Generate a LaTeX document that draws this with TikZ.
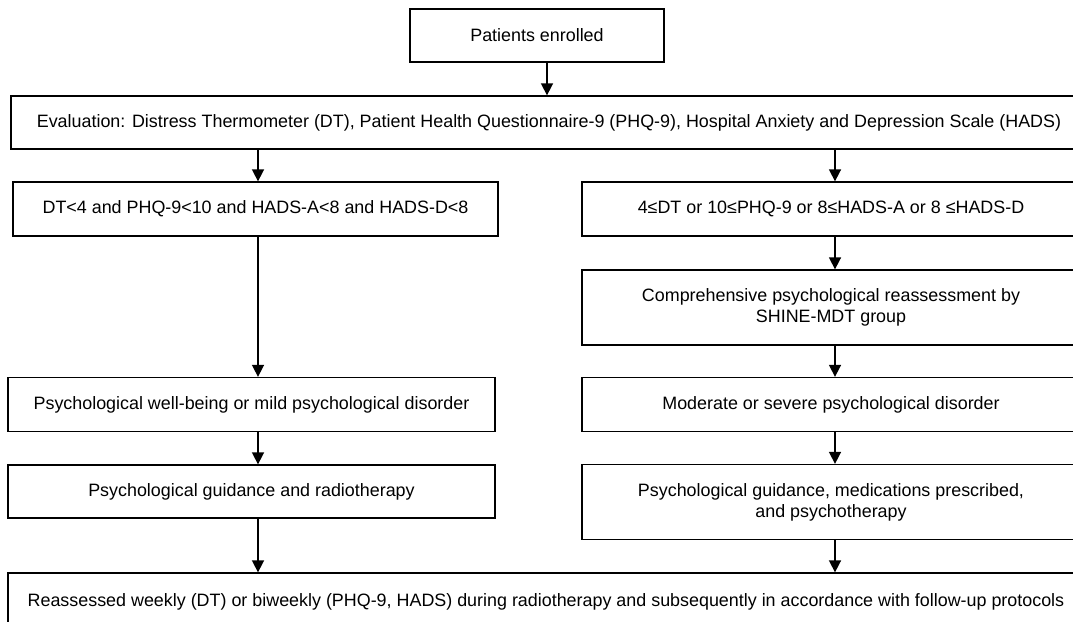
\documentclass[tikz,border=0pt]{standalone}
\usepackage{fontspec}
\setmainfont{Liberation Sans}
\usetikzlibrary{arrows.meta}
\tikzset{
  block/.style={
    rectangle,
    draw=black,
    line width=1.3pt,
    fill=white,
    align=center,
    inner sep=0pt,
    font=\fontsize{17.9}{21}\selectfont
  }
}
\tikzstyle{arrow} = [line width=1.6pt, -{Triangle[width=12pt,length=12pt]}]

\begin{document}
\begin{tikzpicture}[x=1pt, y=-1pt]
    \clip (0,0) rectangle (1073,621);
    \fill[white] (0,0) rectangle (1073,621);
    \node[block, minimum width=254pt, minimum height=53pt] (pe) at (537, 35.5) {Patients enrolled};
    \node[block, minimum width=1076pt, minimum height=53pt] (ev) at (549, 122.5) {Evaluation: Distress Thermometer (DT), Patient Health Questionnaire-9 (PHQ-9), Hospital Anxiety and Depression Scale (HADS)};
    \node[block, minimum width=485pt, minimum height=54pt] (l1) at (255.5, 209) {DT<4 and PHQ-9<10 and HADS-A<8 and HADS-D<8};
    \node[block, minimum width=498pt, minimum height=54pt] (r1) at (831, 209) {4≤DT or 10≤PHQ-9 or 8≤HADS-A or 8 ≤HADS-D};
    \node[block, minimum width=498pt, minimum height=75pt] (r2) at (831, 307.5) {Comprehensive psychological reassessment by\\SHINE-MDT group};
    \node[block, minimum width=487pt, minimum height=54pt] (l2) at (251.5, 404.5) {Psychological well-being or mild psychological disorder};
    \node[block, minimum width=498pt, minimum height=54pt] (r3) at (831, 404.5) {Moderate or severe psychological disorder};
    \node[block, minimum width=487pt, minimum height=53pt] (l3) at (251.5, 491.5) {Psychological guidance and radiotherapy};
    \node[block, minimum width=498pt, minimum height=75pt] (r4) at (831, 502) {Psychological guidance, medications prescribed,\\and psychotherapy};
    \node[block, minimum width=1076pt, minimum height=58pt] (fin) at (546, 602) {Reassessed weekly (DT) or biweekly (PHQ-9, HADS) during radiotherapy and subsequently in accordance with follow-up protocols};
    \draw[arrow] ([xshift=10pt]pe.south) -- ([xshift=10pt]pe.south |- ev.north);
    \draw[arrow] ([xshift=2.5pt]ev.south -| l1.north) -- ([xshift=2.5pt]l1.north);
    \draw[arrow] ([xshift=4pt]ev.south -| r1.north) -- ([xshift=4pt]r1.north);
    \draw[arrow] ([xshift=2.5pt]l1.south) -- ([xshift=2.5pt]l2.north -| l1.south);
    \draw[arrow] ([xshift=4pt]r1.south) -- ([xshift=4pt]r2.north);
    \draw[arrow] ([xshift=4pt]r2.south) -- ([xshift=4pt]r3.north);
    \draw[arrow] ([xshift=2.5pt]l2.south -| l1.south) -- ([xshift=2.5pt]l3.north -| l1.south);
    \draw[arrow] ([xshift=4pt]r3.south) -- ([xshift=4pt]r4.north);
    \draw[arrow] ([xshift=2.5pt]l3.south -| l1.south) -- ([xshift=2.5pt]fin.north -| l1.south);
    \draw[arrow] ([xshift=4pt]r4.south) -- ([xshift=4pt]fin.north -| r4.south);
\end{tikzpicture}
\end{document}
